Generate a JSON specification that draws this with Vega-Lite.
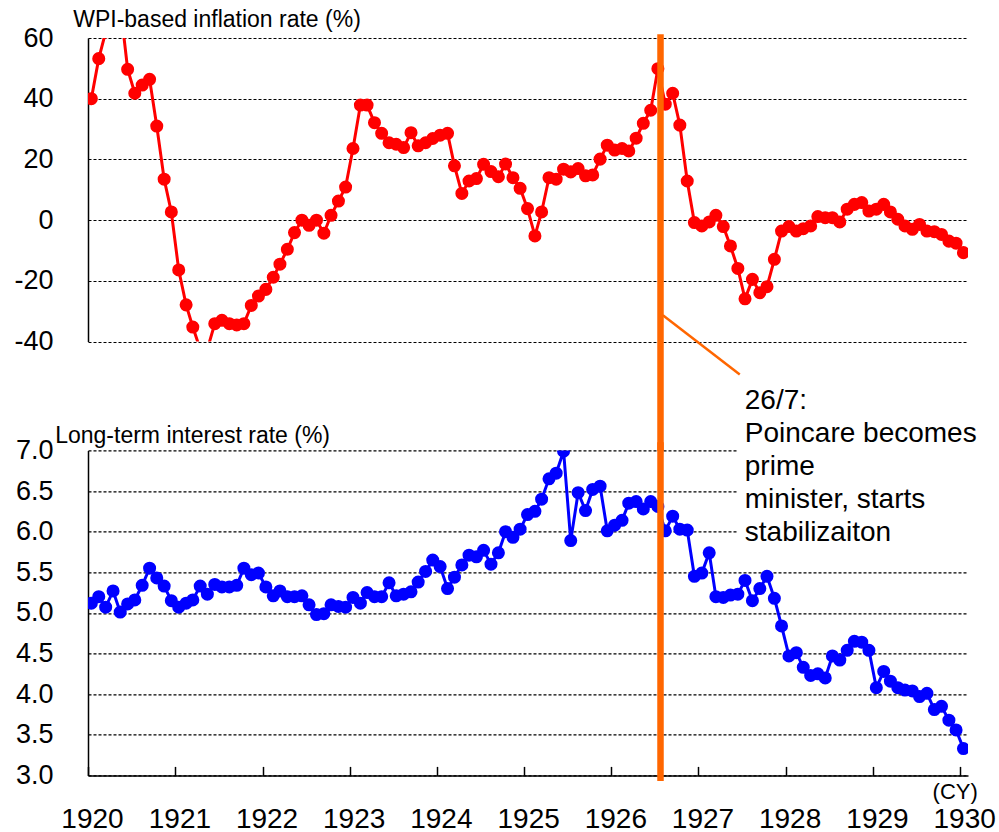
{
  "$schema": "https://vega.github.io/schema/vega-lite/v6.json",
  "background": "white",
  "padding": {"left": 13, "top": 8, "right": 5, "bottom": 5},
  "config": {
    "font": "Liberation Sans",
    "view": {"stroke": null},
    "axis": {
      "labelFont": "Liberation Sans", "titleFont": "Liberation Sans",
      "labelColor": "black", "titleColor": "black",
      "domainColor": "black", "domainWidth": 1.5,
      "gridColor": "black", "gridDash": [3, 2], "gridWidth": 1.2, "gridOpacity": 1
    }
  },
  "datasets": {
    "monthly": [
      {"date":"1920-01-15","wpi":40.0,"ltr":5.12},
      {"date":"1920-02-15","wpi":53.2,"ltr":5.20},
      {"date":"1920-03-15","wpi":62,"ltr":5.07},
      {"date":"1920-04-15","wpi":70,"ltr":5.27},
      {"date":"1920-05-15","wpi":71,"ltr":5.01},
      {"date":"1920-06-15","wpi":49.7,"ltr":5.11},
      {"date":"1920-07-15","wpi":41.8,"ltr":5.16},
      {"date":"1920-08-15","wpi":44.5,"ltr":5.34},
      {"date":"1920-09-15","wpi":46.4,"ltr":5.55},
      {"date":"1920-10-15","wpi":31.0,"ltr":5.43},
      {"date":"1920-11-15","wpi":13.5,"ltr":5.33},
      {"date":"1920-12-15","wpi":2.7,"ltr":5.15},
      {"date":"1921-01-15","wpi":-16.4,"ltr":5.07},
      {"date":"1921-02-15","wpi":-27.9,"ltr":5.12},
      {"date":"1921-03-15","wpi":-35.2,"ltr":5.16},
      {"date":"1921-04-15","wpi":-42.5,"ltr":5.33},
      {"date":"1921-05-15","wpi":-42.5,"ltr":5.23},
      {"date":"1921-06-15","wpi":-34.1,"ltr":5.35},
      {"date":"1921-07-15","wpi":-33.0,"ltr":5.32},
      {"date":"1921-08-15","wpi":-34.1,"ltr":5.32},
      {"date":"1921-09-15","wpi":-34.5,"ltr":5.34},
      {"date":"1921-10-15","wpi":-34.1,"ltr":5.55},
      {"date":"1921-11-15","wpi":-28.1,"ltr":5.47},
      {"date":"1921-12-15","wpi":-25.0,"ltr":5.49},
      {"date":"1922-01-15","wpi":-22.8,"ltr":5.32},
      {"date":"1922-02-15","wpi":-18.8,"ltr":5.21},
      {"date":"1922-03-15","wpi":-14.5,"ltr":5.27},
      {"date":"1922-04-15","wpi":-9.6,"ltr":5.20},
      {"date":"1922-05-15","wpi":-4.1,"ltr":5.20},
      {"date":"1922-06-15","wpi":0.0,"ltr":5.21},
      {"date":"1922-07-15","wpi":-1.7,"ltr":5.10},
      {"date":"1922-08-15","wpi":0.0,"ltr":4.98},
      {"date":"1922-09-15","wpi":-4.3,"ltr":4.99},
      {"date":"1922-10-15","wpi":1.6,"ltr":5.10},
      {"date":"1922-11-15","wpi":6.3,"ltr":5.08},
      {"date":"1922-12-15","wpi":10.9,"ltr":5.07},
      {"date":"1923-01-15","wpi":23.6,"ltr":5.19},
      {"date":"1923-02-15","wpi":37.9,"ltr":5.12},
      {"date":"1923-03-15","wpi":37.9,"ltr":5.25},
      {"date":"1923-04-15","wpi":32.1,"ltr":5.20},
      {"date":"1923-05-15","wpi":28.6,"ltr":5.20},
      {"date":"1923-06-15","wpi":25.5,"ltr":5.37},
      {"date":"1923-07-15","wpi":25.0,"ltr":5.21},
      {"date":"1923-08-15","wpi":23.9,"ltr":5.23},
      {"date":"1923-09-15","wpi":28.8,"ltr":5.26},
      {"date":"1923-10-15","wpi":24.5,"ltr":5.38},
      {"date":"1923-11-15","wpi":25.5,"ltr":5.51},
      {"date":"1923-12-15","wpi":26.9,"ltr":5.65},
      {"date":"1924-01-15","wpi":28.0,"ltr":5.57},
      {"date":"1924-02-15","wpi":28.6,"ltr":5.30},
      {"date":"1924-03-15","wpi":17.9,"ltr":5.44},
      {"date":"1924-04-15","wpi":8.8,"ltr":5.59},
      {"date":"1924-05-15","wpi":12.9,"ltr":5.71},
      {"date":"1924-06-15","wpi":13.7,"ltr":5.69},
      {"date":"1924-07-15","wpi":18.4,"ltr":5.77},
      {"date":"1924-08-15","wpi":16.0,"ltr":5.60},
      {"date":"1924-09-15","wpi":14.3,"ltr":5.74},
      {"date":"1924-10-15","wpi":18.5,"ltr":6.00},
      {"date":"1924-11-15","wpi":14.0,"ltr":5.93},
      {"date":"1924-12-15","wpi":10.5,"ltr":6.03},
      {"date":"1925-01-15","wpi":3.8,"ltr":6.21},
      {"date":"1925-02-15","wpi":-5.2,"ltr":6.25},
      {"date":"1925-03-15","wpi":2.7,"ltr":6.40},
      {"date":"1925-04-15","wpi":14.0,"ltr":6.65},
      {"date":"1925-05-15","wpi":13.5,"ltr":6.72},
      {"date":"1925-06-15","wpi":16.8,"ltr":6.99},
      {"date":"1925-07-15","wpi":15.9,"ltr":5.89},
      {"date":"1925-08-15","wpi":17.0,"ltr":6.48},
      {"date":"1925-09-15","wpi":14.6,"ltr":6.26},
      {"date":"1925-10-15","wpi":14.9,"ltr":6.52},
      {"date":"1925-11-15","wpi":20.1,"ltr":6.56},
      {"date":"1925-12-15","wpi":24.7,"ltr":6.01},
      {"date":"1926-01-15","wpi":23.1,"ltr":6.08},
      {"date":"1926-02-15","wpi":23.6,"ltr":6.14},
      {"date":"1926-03-15","wpi":22.8,"ltr":6.35},
      {"date":"1926-04-15","wpi":27.0,"ltr":6.37},
      {"date":"1926-05-15","wpi":31.9,"ltr":6.28},
      {"date":"1926-06-15","wpi":36.2,"ltr":6.37},
      {"date":"1926-07-15","wpi":49.9,"ltr":6.31},
      {"date":"1926-08-15","wpi":38.2,"ltr":6.01},
      {"date":"1926-09-15","wpi":41.8,"ltr":6.19},
      {"date":"1926-10-15","wpi":31.3,"ltr":6.03},
      {"date":"1926-11-15","wpi":12.9,"ltr":6.02},
      {"date":"1926-12-15","wpi":-0.8,"ltr":5.45},
      {"date":"1927-01-15","wpi":-1.9,"ltr":5.49},
      {"date":"1927-02-15","wpi":-0.6,"ltr":5.74},
      {"date":"1927-03-15","wpi":1.6,"ltr":5.20},
      {"date":"1927-04-15","wpi":-2.1,"ltr":5.19},
      {"date":"1927-05-15","wpi":-8.5,"ltr":5.22},
      {"date":"1927-06-15","wpi":-15.9,"ltr":5.23},
      {"date":"1927-07-15","wpi":-25.9,"ltr":5.40},
      {"date":"1927-08-15","wpi":-19.5,"ltr":5.15},
      {"date":"1927-09-15","wpi":-23.9,"ltr":5.30},
      {"date":"1927-10-15","wpi":-21.9,"ltr":5.45},
      {"date":"1927-11-15","wpi":-12.9,"ltr":5.18},
      {"date":"1927-12-15","wpi":-3.6,"ltr":4.84},
      {"date":"1928-01-15","wpi":-2.1,"ltr":4.47},
      {"date":"1928-02-15","wpi":-3.6,"ltr":4.51},
      {"date":"1928-03-15","wpi":-2.8,"ltr":4.33},
      {"date":"1928-04-15","wpi":-1.9,"ltr":4.23},
      {"date":"1928-05-15","wpi":1.2,"ltr":4.25},
      {"date":"1928-06-15","wpi":0.8,"ltr":4.20},
      {"date":"1928-07-15","wpi":0.8,"ltr":4.47},
      {"date":"1928-08-15","wpi":-0.6,"ltr":4.42},
      {"date":"1928-09-15","wpi":3.6,"ltr":4.54},
      {"date":"1928-10-15","wpi":5.2,"ltr":4.65},
      {"date":"1928-11-15","wpi":5.8,"ltr":4.64},
      {"date":"1928-12-15","wpi":3.0,"ltr":4.54},
      {"date":"1929-01-15","wpi":3.6,"ltr":4.08},
      {"date":"1929-02-15","wpi":5.2,"ltr":4.28},
      {"date":"1929-03-15","wpi":2.7,"ltr":4.16},
      {"date":"1929-04-15","wpi":0.3,"ltr":4.08},
      {"date":"1929-05-15","wpi":-1.9,"ltr":4.05},
      {"date":"1929-06-15","wpi":-3.0,"ltr":4.04},
      {"date":"1929-07-15","wpi":-1.4,"ltr":3.97},
      {"date":"1929-08-15","wpi":-3.6,"ltr":4.01},
      {"date":"1929-09-15","wpi":-3.8,"ltr":3.81},
      {"date":"1929-10-15","wpi":-4.7,"ltr":3.85},
      {"date":"1929-11-15","wpi":-6.9,"ltr":3.68},
      {"date":"1929-12-15","wpi":-7.6,"ltr":3.56},
      {"date":"1930-01-15","wpi":-10.7,"ltr":3.33}
    ]
  },
  "spacing": 108.4,
  "bounds": "flush",
  "vconcat": [
    {
      "width": 880,
      "height": 303.6,
      "layer": [
        {
          "data": {"name": "monthly"},
          "mark": {"type": "line", "color": "#FF0000", "strokeWidth": 3, "clip": true},
          "encoding": {
            "x": {"field": "date", "type": "temporal",
              "scale": {"type": "utc", "domain": [{"year": 1920, "month": 1, "date": 1, "utc": true}, {"year": 1930, "month": 2, "date": 3, "utc": true}]},
              "axis": {"labels": false, "ticks": false, "domain": false, "grid": false, "title": null}},
            "y": {"field": "wpi", "type": "quantitative",
              "scale": {"domain": [-40, 60], "nice": false, "zero": false},
              "axis": {
                "values": [-40, -20, 0, 20, 40, 60],
                "labelExpr": "replace(datum.label, '\u2212', '-')",
                "title": "WPI-based inflation rate (%)",
                "titleAngle": 0, "titleAlign": "left", "titleBaseline": "alphabetic",
                "titleX": -15.3, "titleY": -11.4,
                "titleFontSize": 23, "titleFontWeight": "normal",
                "labelFontSize": 27, "labelPadding": 35, "labelBaseline": "middle",
                "ticks": false, "grid": true, "domain": true
              }}
          }
        },
        {
          "data": {"name": "monthly"},
          "mark": {"type": "circle", "color": "#FF0000", "size": 170, "opacity": 1, "clip": true},
          "encoding": {
            "x": {"field": "date", "type": "temporal"},
            "y": {"field": "wpi", "type": "quantitative"}
          }
        },
        {
          "data": {"values": [{}]},
          "mark": {"type": "rule", "color": "#FF6600", "strokeWidth": 2.5},
          "encoding": {
            "x": {"datum": {"year": 1926, "month": 8, "date": 5, "utc": true}, "type": "temporal"},
            "x2": {"datum": {"year": 1927, "month": 6, "date": 23, "utc": true}},
            "y": {"datum": -31.3, "type": "quantitative"},
            "y2": {"datum": -50.8}
          }
        },
        {
          "data": {"values": [{}]},
          "mark": {"type": "rule", "color": "#FF6600", "strokeWidth": 6.5},
          "encoding": {
            "x": {"datum": {"year": 1926, "month": 7, "date": 26, "utc": true}, "type": "temporal"},
            "y": {"datum": 61.2, "type": "quantitative"},
            "y2": {"datum": -76}
          }
        }
      ]
    },
    {
      "width": 880,
      "height": 325,
      "layer": [
        {
          "data": {"values": [{}]},
          "mark": {"type": "rect", "color": "white", "opacity": 1},
          "encoding": {
            "x": {"datum": {"year": 1927, "month": 6, "date": 15, "utc": true}, "type": "temporal"},
            "x2": {"datum": {"year": 1930, "month": 3, "date": 1, "utc": true}},
            "y": {"datum": 5.75, "type": "quantitative"},
            "y2": {"datum": 7.05}
          }
        },
        {
          "data": {"name": "monthly"},
          "mark": {"type": "line", "color": "#0000FF", "strokeWidth": 3, "clip": true},
          "encoding": {
            "x": {"field": "date", "type": "temporal",
              "scale": {"type": "utc", "domain": [{"year": 1920, "month": 1, "date": 1, "utc": true}, {"year": 1930, "month": 2, "date": 3, "utc": true}]},
              "axis": {
                "values": [
                  {"year": 1920, "utc": true}, {"year": 1921, "utc": true}, {"year": 1922, "utc": true},
                  {"year": 1923, "utc": true}, {"year": 1924, "utc": true}, {"year": 1925, "utc": true},
                  {"year": 1926, "utc": true}, {"year": 1927, "utc": true}, {"year": 1928, "utc": true},
                  {"year": 1929, "utc": true}, {"year": 1930, "utc": true}
                ],
                "format": "%Y",
                "labelFontSize": 28, "labelPadding": 39, "labelOffset": 4,
                "labelFlush": false, "labelOverlap": false, "labelBaseline": "top",
                "tickSize": -9, "tickColor": "black", "tickWidth": 1.5,
                "grid": false, "domain": true,
                "title": "(CY)", "titleX": 866.7, "titleY": 16.3,
                "titleAlign": "center", "titleBaseline": "middle",
                "titleFontSize": 22, "titleFontWeight": "normal"
              }},
            "y": {"field": "ltr", "type": "quantitative",
              "scale": {"domain": [3, 7], "nice": false, "zero": false},
              "axis": {
                "values": [3, 3.5, 4, 4.5, 5, 5.5, 6, 6.5, 7],
                "format": ".1f",
                "title": "Long-term interest rate (%)",
                "titleAngle": 0, "titleAlign": "left", "titleBaseline": "alphabetic",
                "titleX": -33.3, "titleY": -7.7,
                "titleFontSize": 23, "titleFontWeight": "normal",
                "labelFontSize": 27, "labelPadding": 35, "labelBaseline": "middle",
                "ticks": false, "grid": true, "domain": true
              }}
          }
        },
        {
          "data": {"name": "monthly"},
          "mark": {"type": "circle", "color": "#0000FF", "size": 170, "opacity": 1, "clip": true},
          "encoding": {
            "x": {"field": "date", "type": "temporal"},
            "y": {"field": "ltr", "type": "quantitative"}
          }
        },
        {
          "data": {"values": [{}]},
          "mark": {"type": "rule", "color": "#FF6600", "strokeWidth": 6.5},
          "encoding": {
            "x": {"datum": {"year": 1926, "month": 7, "date": 26, "utc": true}, "type": "temporal"},
            "y": {"datum": 7.1, "type": "quantitative"},
            "y2": {"datum": 2.93}
          }
        },
        {
          "data": {"values": [{}]},
          "mark": {"type": "text", "align": "left", "baseline": "alphabetic", "fontSize": 28, "lineHeight": 33, "color": "black",
            "text": ["26/7:", "Poincare becomes", "prime", "minister, starts", "stabilizaiton"]},
          "encoding": {
            "x": {"datum": {"year": 1927, "month": 7, "date": 14, "utc": true}, "type": "temporal"},
            "y": {"datum": 7.513, "type": "quantitative"}
          }
        }
      ]
    }
  ]
}
